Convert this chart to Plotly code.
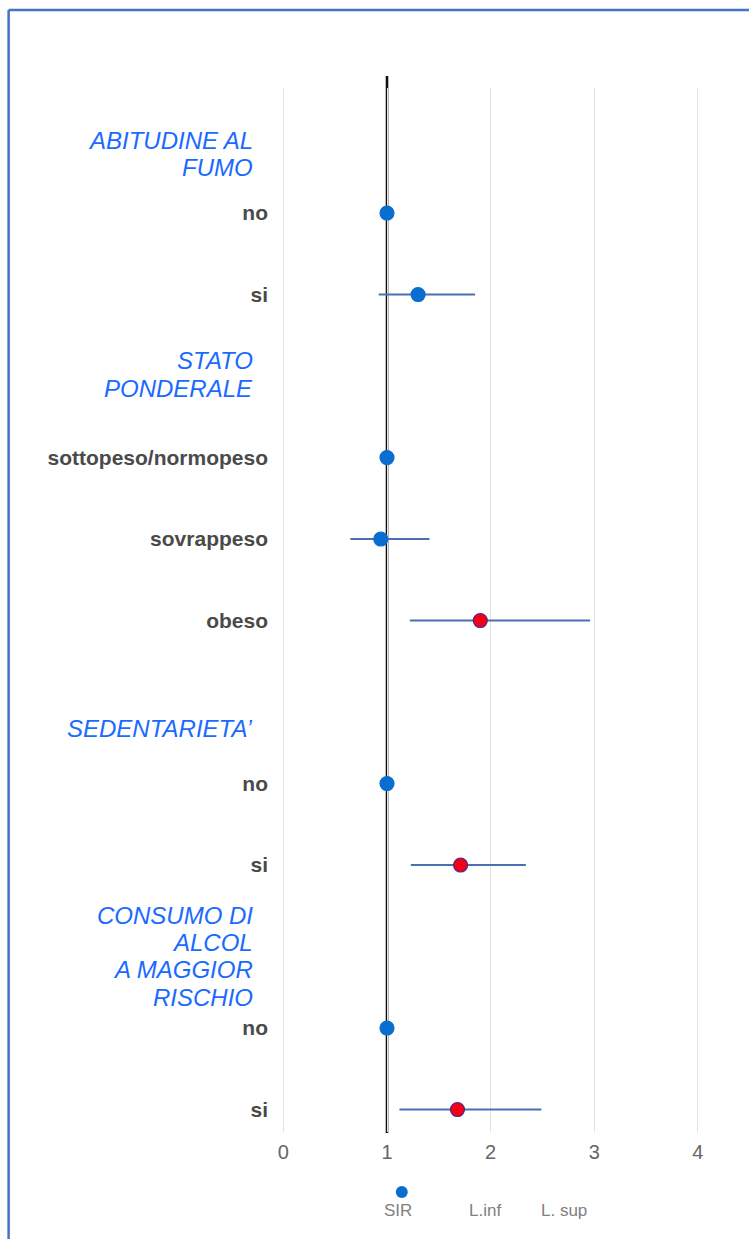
import plotly.graph_objects as go

# Row labels (top to bottom) and their row index on the y axis
row_labels = ["no", "si", "sottopeso/normopeso", "sovrappeso", "obeso", "no", "si", "no", "si"]
row_pos = [0, 1, 3, 4, 5, 7, 8, 10, 11]

# SIR estimate with lower / upper confidence limits
sir = [1.0, 1.30, 1.0, 0.94, 1.90, 1.0, 1.71, 1.0, 1.68]
l_inf = [1.0, 0.92, 1.0, 0.646, 1.22, 1.0, 1.23, 1.0, 1.12]
l_sup = [1.0, 1.85, 1.0, 1.41, 2.96, 1.0, 2.34, 1.0, 2.49]
significant = [False, False, False, False, True, False, True, False, True]

# Group headings (one entry per text line) and the row position they sit at
group_titles = [
    ["ABITUDINE AL", "FUMO"],
    ["STATO", "PONDERALE"],
    ["SEDENTARIETA’"],
    ["CONSUMO DI", "ALCOL", "A MAGGIOR", "RISCHIO"],
]
group_pos = [-0.72, 1.98, 6.33, 9.12]

x_ticks = [0, 1, 2, 3, 4]
legend_labels = ["SIR", "L.inf", "L. sup"]

BLUE = "#0a6dd0"
RED = "#f20019"
BAR = "#4a6fb5"
HEAD = "#1a6aff"
FONT = "Liberation Sans, Arial, sans-serif"

W, H = 749, 1239
L, R, T, B = 272.6, 20, 88, 107
plot_w = W - L - R
plot_h = H - T - B
LINE_GAP = 27.3

fig = go.Figure()

fig.add_trace(go.Scatter(
    x=sir,
    y=row_pos,
    mode="markers",
    marker=dict(
        size=14,
        color=[RED if s else BLUE for s in significant],
        line=dict(color=["#4b2a86" if s else BLUE for s in significant], width=1.2),
    ),
    error_x=dict(
        type="data",
        symmetric=False,
        array=[u - s for u, s in zip(l_sup, sir)],
        arrayminus=[s - lo for s, lo in zip(sir, l_inf)],
        color=BAR,
        thickness=2.2,
        width=0,
    ),
    showlegend=False,
    hoverinfo="skip",
))


def px_x(px):
    return (px - L) / plot_w


def px_y(py):
    return (H - B - py) / plot_h


annotations = []
for lines, pos in zip(group_titles, group_pos):
    n = len(lines)
    for i, line in enumerate(lines):
        annotations.append(dict(
            text="<i>" + line + "</i>",
            x=px_x(255), xref="paper", xanchor="right",
            y=pos, yref="y", yanchor="middle",
            yshift=((n - 1) / 2 - i) * LINE_GAP,
            showarrow=False,
            font=dict(family=FONT, size=24, color=HEAD),
        ))

# legend-style labels under the axis
for txt, cx in zip(legend_labels, [398, 485, 564]):
    annotations.append(dict(
        text=txt, x=px_x(cx), xref="paper", xanchor="center",
        y=px_y(1210), yref="paper", yanchor="middle",
        showarrow=False,
        font=dict(family=FONT, size=17, color="#808080"),
    ))

shapes = [
    # reference line at SIR = 1
    dict(type="line", xref="x", yref="paper", x0=1, x1=1,
         y0=px_y(1133), y1=px_y(76), line=dict(color="#111111", width=2.6), layer="between"),
    # legend marker
    dict(type="circle", xref="paper", yref="paper",
         x0=px_x(395.5), x1=px_x(407.5), y0=px_y(1198), y1=px_y(1186),
         fillcolor=BLUE, line=dict(color=BLUE, width=0)),
    # frame
    dict(type="line", xref="paper", yref="paper", x0=px_x(8), x1=px_x(749),
         y0=px_y(10), y1=px_y(10), line=dict(color="#4472c4", width=2.5)),
    dict(type="line", xref="paper", yref="paper", x0=px_x(8), x1=px_x(8),
         y0=px_y(10), y1=px_y(1239), line=dict(color="#4472c4", width=2.5)),
]

fig.update_layout(
    width=W, height=H,
    margin=dict(l=L, r=R, t=T, b=B),
    paper_bgcolor="white",
    plot_bgcolor="white",
    font=dict(family=FONT),
    annotations=annotations,
    shapes=shapes,
    xaxis=dict(
        range=[-0.1, 4.3],
        tickvals=x_ticks,
        ticktext=[str(v) for v in x_ticks],
        showgrid=True, gridcolor="#e2e2e2", gridwidth=1,
        zeroline=False, showline=False, ticks="",
        tickfont=dict(size=20, color="#666666"),
        ticklabelstandoff=6,
    ),
    yaxis=dict(
        range=[11.276, -1.534],
        tickvals=row_pos,
        ticktext=["<b>" + t + "</b>" for t in row_labels],
        showgrid=False, zeroline=False, showline=False, ticks="",
        tickfont=dict(size=21, color="#4a4a4a"),
        ticklabelstandoff=4,
    ),
)

fig.write_html("out.html")
